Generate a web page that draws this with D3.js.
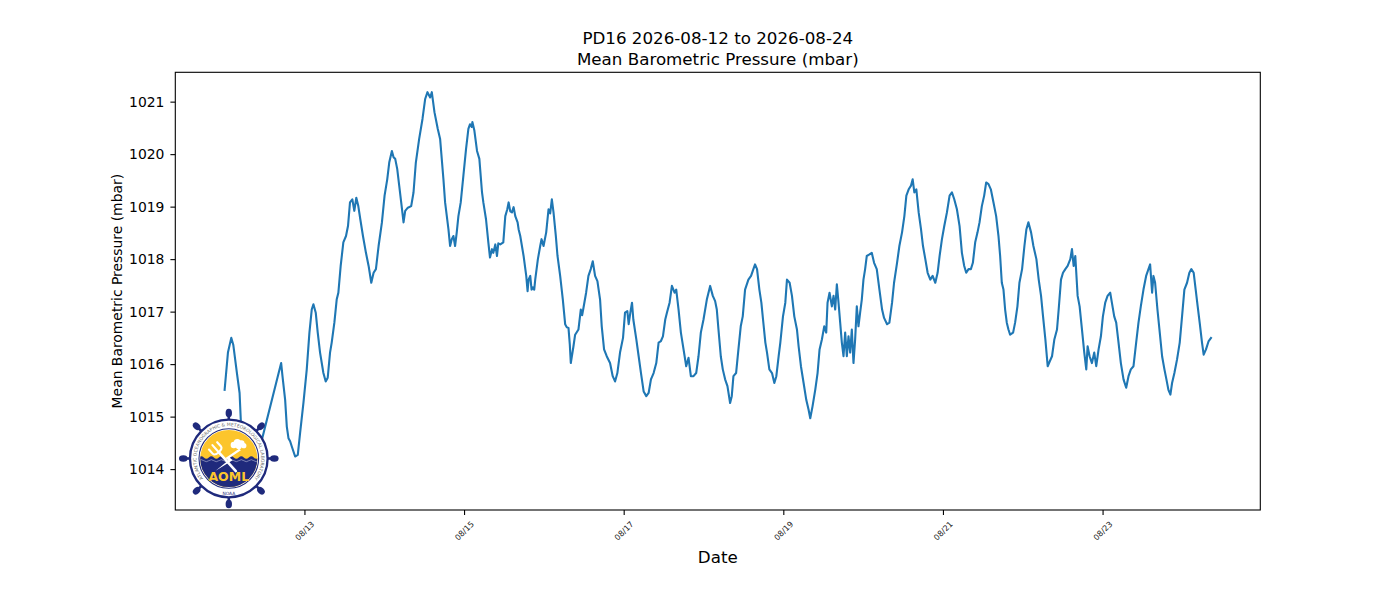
<!DOCTYPE html>
<html>
<head>
<meta charset="utf-8">
<script src="https://cdn.jsdelivr.net/npm/d3@7"></script>
<style>
  body { margin: 0; background: #ffffff; }
  svg { display: block; font-family: "DejaVu Sans", sans-serif; }
</style>
</head>
<body>
<svg id="chart" width="1400" height="600"></svg>
<script>
// ---------------- data ----------------
const titleLines = ["PD16 2026-08-12 to 2026-08-24", "Mean Barometric Pressure (mbar)"];
const yAxisLabel = "Mean Barometric Pressure (mbar)";
const xAxisLabel = "Date";
const seriesStart = "2026-08-12T00:00:00Z";

// hours since 2026-08-12 00:00 UTC
const hours = [
  0.0,1.0,2.0,2.6,3.7,4.5,4.9,5.9,7.4,17.0,
  17.4,18.2,18.7,19.2,19.7,20.2,21.2,22.0,22.7,23.7,
  24.7,25.5,26.2,26.7,27.4,28.0,28.7,29.7,30.4,31.0,
  31.7,32.2,33.0,33.7,34.2,34.9,35.7,36.5,37.1,37.7,
  38.4,39.0,39.6,40.2,40.8,41.6,42.5,43.3,44.1,44.8,
  45.5,46.3,47.3,48.1,48.9,49.5,50.3,50.8,51.3,51.9,
  52.5,53.1,53.8,54.3,55.1,56.1,56.8,57.5,58.5,59.5,
  60.3,61.0,61.8,62.3,63.1,64.1,64.8,65.8,66.3,67.3,
  67.8,68.3,68.8,69.3,69.8,70.3,71.0,71.8,72.6,73.3,
  73.8,74.3,74.5,75.1,75.9,76.6,77.4,77.8,78.6,79.3,
  79.8,80.4,80.8,81.4,81.9,82.3,82.9,83.8,84.4,85.0,
  85.4,85.9,86.4,86.9,87.4,88.1,88.4,88.9,89.9,90.7,
  91.1,91.4,91.9,92.3,92.7,93.1,93.4,94.2,94.9,95.3,
  95.9,96.7,97.4,97.9,98.4,98.9,99.6,100.1,100.9,101.7,
  102.4,102.9,103.4,103.8,104.1,104.9,105.4,106.4,107.1,107.5,
  107.9,108.7,109.4,110.1,110.7,111.4,112.1,112.9,113.4,114.1,
  114.9,115.9,116.7,117.4,118.1,118.9,119.8,120.4,121.1,121.5,
  122.0,122.5,122.9,123.8,124.5,125.2,126.0,126.8,127.5,128.2,
  129.0,129.8,130.5,131.2,131.8,132.5,133.0,133.8,134.5,135.3,
  135.8,136.5,137.2,138.0,138.8,139.5,140.2,141.0,141.8,142.5,
  143.2,144.0,145.0,146.0,146.8,147.5,148.0,148.5,149.2,149.8,
  150.5,151.2,152.0,152.5,153.0,153.8,154.5,155.2,155.8,156.5,
  157.5,158.3,159.0,159.5,160.1,160.8,161.4,161.9,162.6,163.1,
  163.8,164.6,165.3,165.9,166.6,167.1,167.9,168.6,169.1,169.9,
  170.6,171.3,172.1,172.6,173.3,174.1,174.9,175.6,176.1,176.8,
  177.6,178.3,178.9,179.6,180.3,180.9,181.3,181.9,182.6,183.1,
  183.6,184.1,184.6,185.1,185.6,186.1,186.6,187.1,187.6,188.1,
  188.6,189.1,189.6,190.1,190.6,191.1,191.6,192.1,192.6,193.1,
  193.9,194.6,195.3,196.1,196.9,197.7,198.3,199.2,199.9,200.7,
  201.3,202.2,202.9,203.7,204.4,205.0,205.7,206.4,206.9,207.4,
  208.0,208.7,209.4,210.0,210.7,211.4,212.2,212.9,213.7,214.4,
  215.0,215.7,216.4,217.2,218.0,218.7,219.4,220.2,221.0,221.7,
  222.4,223.0,223.7,224.4,225.0,225.7,226.4,227.0,227.7,228.4,
  229.0,229.7,230.4,231.2,232.0,232.7,233.2,233.7,234.2,234.7,
  235.2,235.7,236.2,237.1,237.7,238.4,239.0,239.8,240.5,241.1,
  241.7,242.5,243.2,244.1,244.8,245.5,246.1,246.8,247.5,248.1,
  248.8,249.5,250.3,250.8,251.5,252.1,252.8,253.5,254.3,254.8,
  255.3,255.8,256.5,257.1,257.8,258.5,259.1,259.5,260.1,260.8,
  261.5,262.1,262.8,263.5,264.1,264.8,265.5,266.3,266.8,267.5,
  268.1,268.8,269.5,270.3,271.1,271.8,272.5,273.3,274.1,274.8,
  275.5,276.3,277.1,277.8,278.3,278.9,279.3,279.8,280.5,281.1,
  281.9,282.6,283.2,283.8,284.4,284.9,285.6,286.4,287.2,287.9,
  288.6,289.4,290.1,290.7,291.4,292.0,292.6,293.2,293.9,294.4,
  295.1,295.9,296.6
];

// mean barometric pressure (mbar)
const pressure = [
  1015.51,1016.22,1016.50,1016.37,1015.83,1015.45,1014.88,1014.37,1013.60,1016.02,
  1015.77,1015.32,1014.81,1014.59,1014.53,1014.43,1014.24,1014.27,1014.69,1015.26,
  1015.90,1016.60,1017.04,1017.14,1016.98,1016.60,1016.22,1015.83,1015.67,1015.74,
  1016.22,1016.41,1016.79,1017.23,1017.36,1017.87,1018.32,1018.44,1018.63,1019.08,
  1019.14,1018.92,1019.17,1019.01,1018.76,1018.44,1018.12,1017.87,1017.55,1017.74,
  1017.81,1018.25,1018.70,1019.21,1019.52,1019.84,1020.06,1019.94,1019.91,1019.72,
  1019.40,1019.08,1018.70,1018.92,1018.98,1019.01,1019.27,1019.84,1020.29,1020.67,
  1021.05,1021.18,1021.08,1021.18,1020.80,1020.48,1020.29,1019.52,1019.08,1018.57,
  1018.25,1018.38,1018.44,1018.25,1018.51,1018.82,1019.08,1019.59,1020.10,1020.48,
  1020.57,1020.52,1020.61,1020.45,1020.06,1019.91,1019.27,1019.08,1018.76,1018.32,
  1018.03,1018.19,1018.12,1018.28,1018.06,1018.30,1018.28,1018.32,1018.82,1018.95,
  1019.08,1018.91,1018.89,1018.99,1018.82,1018.70,1018.57,1018.44,1018.06,1017.68,
  1017.39,1017.61,1017.68,1017.42,1017.46,1017.42,1017.61,1018.00,1018.25,1018.38,
  1018.25,1018.51,1018.95,1018.87,1019.14,1018.89,1018.44,1018.06,1017.68,1017.23,
  1016.76,1016.70,1016.69,1016.37,1016.02,1016.34,1016.56,1016.66,1017.04,1016.93,
  1017.07,1017.36,1017.68,1017.81,1017.96,1017.68,1017.58,1017.23,1016.72,1016.28,
  1016.15,1016.02,1015.77,1015.67,1015.83,1016.22,1016.50,1016.98,1017.01,1016.76,
  1016.98,1017.17,1016.85,1016.47,1016.15,1015.83,1015.48,1015.39,1015.45,1015.71,
  1015.83,1016.02,1016.41,1016.44,1016.53,1016.85,1016.98,1017.17,1017.49,1017.36,
  1017.42,1017.04,1016.60,1016.28,1015.96,1016.12,1015.77,1015.77,1015.83,1016.15,
  1016.60,1016.85,1017.23,1017.49,1017.30,1017.20,1017.04,1016.66,1016.15,1015.90,
  1015.71,1015.58,1015.26,1015.39,1015.77,1015.83,1016.28,1016.72,1016.91,1017.42,
  1017.61,1017.68,1017.81,1017.90,1017.81,1017.42,1017.17,1016.85,1016.41,1016.22,
  1015.90,1015.83,1015.64,1015.77,1016.15,1016.41,1016.91,1017.17,1017.61,1017.55,
  1017.30,1016.91,1016.66,1016.34,1015.96,1015.64,1015.32,1015.13,1014.97,1015.20,
  1015.51,1015.83,1016.28,1016.47,1016.72,1016.60,1017.17,1017.36,1017.10,1017.30,
  1017.04,1017.52,1017.17,1016.79,1016.41,1016.15,1016.60,1016.15,1016.53,1016.22,
  1016.66,1016.02,1016.47,1017.10,1016.72,1016.98,1017.23,1017.61,1017.81,1018.06,
  1018.09,1018.12,1017.93,1017.81,1017.42,1017.04,1016.88,1016.76,1016.79,1017.17,
  1017.55,1017.93,1018.25,1018.51,1018.82,1019.21,1019.33,1019.40,1019.52,1019.27,
  1019.33,1018.89,1018.57,1018.25,1018.00,1017.74,1017.61,1017.68,1017.55,1017.74,
  1018.06,1018.38,1018.63,1018.89,1019.21,1019.27,1019.14,1018.95,1018.63,1018.12,
  1017.87,1017.74,1017.81,1017.81,1017.93,1018.32,1018.51,1018.70,1019.01,1019.21,
  1019.46,1019.43,1019.33,1019.08,1018.82,1018.44,1018.06,1017.55,1017.42,1017.04,
  1016.79,1016.66,1016.56,1016.60,1016.79,1017.10,1017.55,1017.81,1018.25,1018.57,
  1018.70,1018.51,1018.25,1018.00,1017.61,1017.30,1016.91,1016.47,1015.96,1016.05,
  1016.15,1016.47,1016.66,1017.04,1017.61,1017.74,1017.81,1017.87,1018.00,1018.19,
  1017.87,1018.06,1017.30,1017.10,1016.66,1016.22,1015.90,1016.34,1016.15,1016.02,
  1016.22,1015.96,1016.28,1016.53,1016.91,1017.17,1017.30,1017.36,1017.17,1016.91,
  1016.79,1016.41,1016.02,1015.71,1015.55,1015.77,1015.90,1015.96,1016.41,1016.79,
  1017.10,1017.42,1017.68,1017.81,1017.90,1017.36,1017.68,1017.55,1017.04,1016.66,
  1016.15,1015.90,1015.71,1015.51,1015.42,1015.64,1015.83,1016.09,1016.41,1016.91,
  1017.42,1017.55,1017.74,1017.81,1017.74,1017.42,1017.10,1016.79,1016.41,1016.18,
  1016.28,1016.44,1016.50
];

const xTickDates = ["2026-08-13","2026-08-15","2026-08-17","2026-08-19","2026-08-21","2026-08-23"];
const yTickValues = [1014,1015,1016,1017,1018,1019,1020,1021];

const logoRingWords = ["ATLANTIC", "OCEANOGRAPHIC", "&", "METEOROLOGICAL", "LABORATORY"];
const logoName = "AOML";
const logoAgency = "NOAA";

// ---------------- layout ----------------
const W = 1400, H = 600;
const plot = { left: 175.3, top: 72.3, right: 1260.3, bottom: 510 };
const lineColor = "#1f77b4";

const t0 = Date.parse(seriesStart);
const data = hours.map((h, i) => ({ date: new Date(t0 + h * 3600e3), value: pressure[i] }));

function padExtent(ext, frac) {
  const a = +ext[0], b = +ext[1], p = (b - a) * frac;
  return [a - p, b + p];
}

const xExt = padExtent(d3.extent(data, d => d.date), 0.05);
const yExt = padExtent(d3.extent(data, d => d.value), 0.05);

const x = d3.scaleUtc().domain([new Date(xExt[0]), new Date(xExt[1])]).range([plot.left, plot.right]);
const y = d3.scaleLinear().domain(yExt).range([plot.bottom, plot.top]);

const svg = d3.select("#chart");
svg.append("rect").attr("width", W).attr("height", H).attr("fill", "#fff");
const defs = svg.append("defs");

defs.append("clipPath").attr("id", "plotClip")
  .append("rect").attr("x", plot.left).attr("y", plot.top)
  .attr("width", plot.right - plot.left).attr("height", plot.bottom - plot.top);

// data line
const line = d3.line().x(d => x(d.date)).y(d => y(d.value));
svg.append("path").datum(data)
  .attr("clip-path", "url(#plotClip)")
  .attr("d", line)
  .attr("fill", "none")
  .attr("stroke", lineColor)
  .attr("stroke-width", 2.1)
  .attr("stroke-linejoin", "round")
  .attr("stroke-linecap", "square");

// axes
const yAxis = d3.axisLeft(y).tickValues(yTickValues).tickFormat(d3.format("d"))
  .tickSize(4.9).tickPadding(6);
const gy = svg.append("g").attr("transform", `translate(${plot.left},0)`).call(yAxis);
gy.select(".domain").remove();
gy.selectAll(".tick line").attr("stroke", "#000").attr("stroke-width", 1.1);
gy.selectAll(".tick text").attr("fill", "#000").style("font-size", "13.9px")
  .style("font-family", "DejaVu Sans, sans-serif");

const xTicks = xTickDates.map(s => new Date(s + "T00:00:00Z"));
const xAxis = d3.axisBottom(x).tickValues(xTicks).tickFormat(d3.utcFormat("%m/%d"))
  .tickSize(4.9);
const gx = svg.append("g").attr("transform", `translate(0,${plot.bottom})`).call(xAxis);
gx.select(".domain").remove();
gx.selectAll(".tick line").attr("stroke", "#000").attr("stroke-width", 1.1);
gx.selectAll(".tick text")
  .attr("y", null).attr("dy", null)
  .attr("transform", "translate(0,21) rotate(-45)")
  .attr("text-anchor", "middle")
  .attr("dominant-baseline", "central")
  .attr("fill", "#222")
  .style("font-size", "8px")
  .style("font-family", "DejaVu Sans, sans-serif");

// frame
svg.append("rect")
  .attr("x", plot.left).attr("y", plot.top)
  .attr("width", plot.right - plot.left).attr("height", plot.bottom - plot.top)
  .attr("fill", "none").attr("stroke", "#000").attr("stroke-width", 1.1);

// titles
const cx = (plot.left + plot.right) / 2;
svg.append("text").attr("x", cx).attr("y", 44).attr("text-anchor", "middle")
  .style("font-size", "16.7px").attr("fill", "#000").text(titleLines[0]);
svg.append("text").attr("x", cx).attr("y", 64.5).attr("text-anchor", "middle")
  .style("font-size", "16.7px").attr("fill", "#000").text(titleLines[1]);

svg.append("text").attr("x", cx).attr("y", 563).attr("text-anchor", "middle")
  .style("font-size", "16.7px").attr("fill", "#000").text(xAxisLabel);

svg.append("text")
  .attr("transform", `translate(116.5,${(plot.top + plot.bottom) / 2}) rotate(-90)`)
  .attr("text-anchor", "middle").attr("dominant-baseline", "central")
  .style("font-size", "13.9px").attr("fill", "#000").text(yAxisLabel);

// ---------------- logo ----------------
(function drawLogo() {
  const navy = "#1f2a7c", yellow = "#fcc52c", white = "#ffffff";
  const g = svg.append("g").attr("transform", "translate(228.8,458.5)");

  // wheel spokes and handles
  for (let k = 0; k < 8; k++) {
    const a = k * Math.PI / 4;
    g.append("line")
      .attr("x1", 30 * Math.cos(a)).attr("y1", 30 * Math.sin(a))
      .attr("x2", 44 * Math.cos(a)).attr("y2", 44 * Math.sin(a))
      .attr("stroke", navy).attr("stroke-width", 2.6);
    g.append("ellipse").attr("rx", 4.3).attr("ry", 3.2)
      .attr("transform", `rotate(${k * 45}) translate(45.5,0)`)
      .attr("fill", navy);
  }
  // outer ring
  g.append("circle").attr("r", 38.8).attr("fill", white).attr("stroke", navy).attr("stroke-width", 2.3);
  g.append("circle").attr("r", 29.8).attr("fill", "none").attr("stroke", navy).attr("stroke-width", 1.1);

  // inner disk
  defs.append("clipPath").attr("id", "logoDisk").append("circle").attr("r", 28.6);
  const disk = g.append("g").attr("clip-path", "url(#logoDisk)");
  disk.append("rect").attr("x", -30).attr("y", -30).attr("width", 60).attr("height", 60).attr("fill", yellow);
  disk.append("path")
    .attr("d", "M-30,-1 q2.5,-2.6 5,0 t5,0 t5,0 t5,0 t5,0 t5,0 t5,0 t5,0 t5,0 t5,0 t5,0 t5,0 L30,30 L-30,30 Z")
    .attr("fill", navy);
  disk.append("path")
    .attr("d", "M-30,2.2 q2.5,-2 5,0 t5,0 t5,0 t5,0 t5,0 t5,0 t5,0 t5,0 t5,0 t5,0 t5,0 t5,0")
    .attr("fill", "none").attr("stroke", white).attr("stroke-width", 0.6).attr("opacity", 0.7);

  // cloud
  const cloud = g.append("g").attr("fill", white);
  [[5, -13.5, 3.2], [8.5, -15.8, 3.6], [12.5, -15, 3.3], [15, -12.8, 2.6], [10, -12.2, 3]].forEach(c =>
    cloud.append("circle").attr("cx", c[0]).attr("cy", c[1]).attr("r", c[2]));

  // lightning bolt
  g.append("g").attr("transform", "translate(-2,2) rotate(40)")
    .append("path")
    .attr("d", "M1.8,-17 L-2.6,-1 L1,-1 L-2,15 L4.2,-4 L0.6,-4 L4.2,-17 Z")
    .attr("fill", white);

  // trident
  const tri = g.append("g").attr("transform", "translate(-3,1.5) rotate(-42)")
    .attr("stroke", white).attr("fill", "none").attr("stroke-linecap", "round");
  tri.append("line").attr("x1", 0).attr("y1", 15).attr("x2", 0).attr("y2", -10).attr("stroke-width", 2.6);
  tri.append("path").attr("d", "M-5.5,-19 L-5.5,-13.5 Q-5.5,-10.5 0,-10.5 Q5.5,-10.5 5.5,-13.5 L5.5,-19").attr("stroke-width", 2.1);
  tri.append("line").attr("x1", 0).attr("y1", -10.5).attr("x2", 0).attr("y2", -20).attr("stroke-width", 2.1);

  // name
  g.append("text").attr("x", 0).attr("y", 22.5).attr("text-anchor", "middle")
    .style("font-size", "12.5px").style("font-weight", "bold")
    .attr("fill", yellow).text(logoName);

  // ring text: one textPath per word, laid out along a clockwise arc
  const r = 32.4;
  const a1 = 128 * Math.PI / 180, a2 = 52 * Math.PI / 180;
  const ringPath = defs.append("path").attr("id", "ringPath")
    .attr("d", `M${r * Math.cos(a1)},${r * Math.sin(a1)} A${r},${r} 0 1 1 ${r * Math.cos(a2)},${r * Math.sin(a2)}`);
  const pathLen = r * (360 - 76) * Math.PI / 180;
  const fontSize = 4.6;
  const measure = s => {
    const t = g.append("text").style("font-size", fontSize + "px").text(s);
    const w = t.node().getComputedTextLength();
    t.remove();
    return w;
  };
  const spaceW = measure("A A") - measure("AA");
  const widths = logoRingWords.map(measure);
  const total = d3.sum(widths) + spaceW * (logoRingWords.length - 1);
  let offset = (pathLen - total) / 2;
  logoRingWords.forEach((w, i) => {
    g.append("text").style("font-size", fontSize + "px").attr("fill", "#6b6b6b")
      .append("textPath").attr("href", "#ringPath").attr("startOffset", offset)
      .text(w);
    offset += widths[i] + spaceW;
  });
  g.append("text").attr("x", 0).attr("y", 36).attr("text-anchor", "middle")
    .style("font-size", "4.4px").attr("fill", navy).text(logoAgency);
})();
</script>
</body>
</html>
